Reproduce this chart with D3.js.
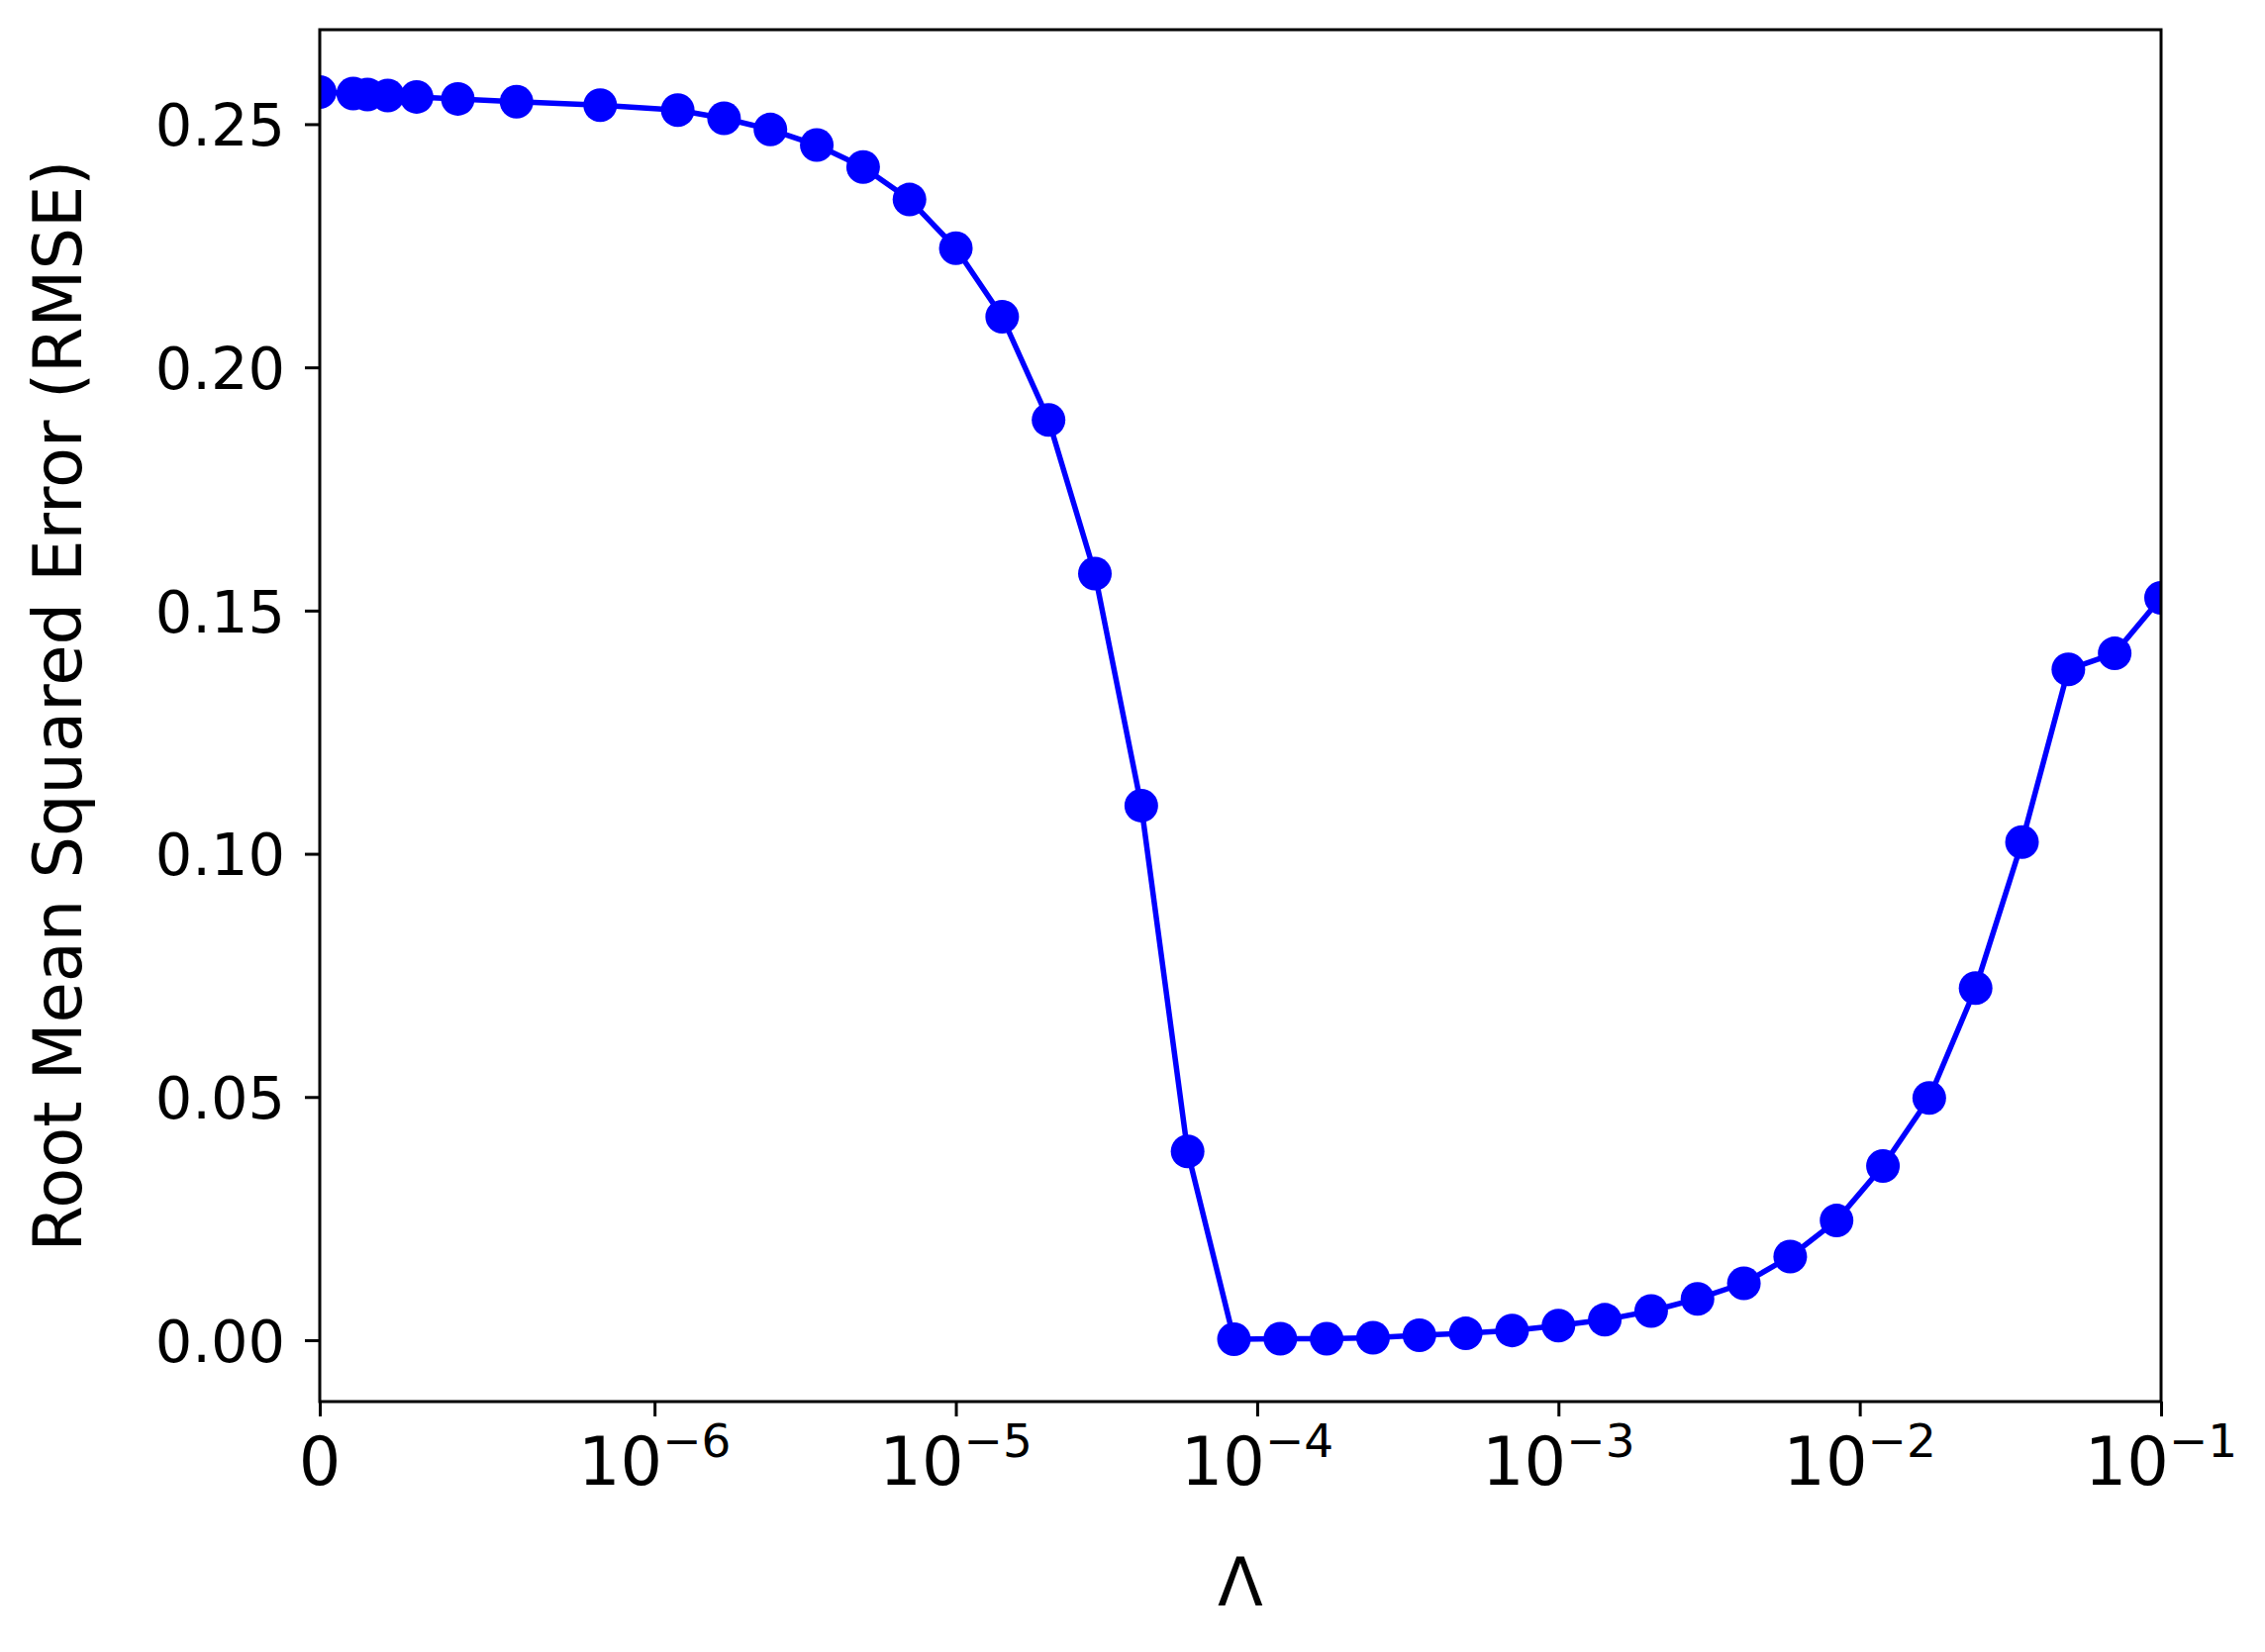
<!DOCTYPE html>
<html>
<head>
<meta charset="utf-8">
<script src="https://cdn.jsdelivr.net/npm/d3@7"></script>
<style>
  html, body { margin: 0; padding: 0; background: #fff; }
  text { font-family: "DejaVu Sans", sans-serif; fill: #000; }
</style>
</head>
<body>
<div id="chart"></div>
<script>
// regularisation strengths (0 followed by log-spaced values)
const lambdas = [0,
  1.000e-7, 1.425e-7, 2.031e-7, 2.894e-7, 4.125e-7, 5.878e-7, 8.377e-7,
  1.194e-6, 1.701e-6, 2.424e-6, 3.455e-6, 4.924e-6, 7.017e-6,
  1.000e-5, 1.425e-5, 2.031e-5, 2.894e-5, 4.125e-5, 5.878e-5, 8.377e-5,
  1.194e-4, 1.701e-4, 2.424e-4, 3.455e-4, 4.924e-4, 7.017e-4,
  1.000e-3, 1.425e-3, 2.031e-3, 2.894e-3, 4.125e-3, 5.878e-3, 8.377e-3,
  1.194e-2, 1.701e-2, 2.424e-2, 3.455e-2, 4.924e-2, 7.017e-2, 1.000e-1];

const rmse = [0.2566,
  0.2563, 0.2561, 0.2559, 0.2556, 0.2552, 0.2546, 0.2539,
  0.2529, 0.2512, 0.2489, 0.2457, 0.2412, 0.2345,
  0.2245, 0.2104, 0.1892, 0.1576, 0.1099, 0.0388, 0.0002,
  0.0003, 0.0003, 0.0005, 0.0010, 0.0014, 0.0020,
  0.0030, 0.0042, 0.0060, 0.0085, 0.0117, 0.0172, 0.0246,
  0.0358, 0.0498, 0.0724, 0.1024, 0.1379, 0.1412, 0.1526];

const xTicks = [0, 1e-6, 1e-5, 1e-4, 1e-3, 1e-2, 1e-1];
const yTicks = [0, 0.05, 0.10, 0.15, 0.20, 0.25];

const W = 2288, H = 1669;
const plot = {left: 323, top: 30, right: 2183, bottom: 1416};
const blue = "#0000ff";

// matplotlib style symlog: linear up to linthresh, log10 after
const linthresh = 1e-6, linscale = 1 / (1 - 1 / 10);
const symlog = v => {
  const a = Math.abs(v);
  const t = a <= linthresh ? a / linthresh * linscale : linscale + Math.log10(a / linthresh);
  return Math.sign(v) * t;
};

const data = lambdas.map((l, i) => ({lam: l, val: rmse[i]}));

const xT = d3.scaleLinear()
  .domain([symlog(0), symlog(0.1)])
  .range([plot.left, plot.right]);
const x = v => xT(symlog(v));

const [ymin, ymax] = d3.extent(rmse);
const pad = (ymax - ymin) * 0.05;
const y = d3.scaleLinear()
  .domain([ymin - pad, ymax + pad])
  .range([plot.bottom, plot.top]);

const svg = d3.select("#chart").append("svg")
  .attr("width", W).attr("height", H)
  .attr("viewBox", `0 0 ${W} ${H}`);

svg.append("rect").attr("width", W).attr("height", H).attr("fill", "#fff");

svg.append("clipPath").attr("id", "clip")
  .append("rect")
  .attr("x", plot.left).attr("y", plot.top)
  .attr("width", plot.right - plot.left)
  .attr("height", plot.bottom - plot.top);

const g = svg.append("g").attr("clip-path", "url(#clip)");

g.append("path")
  .datum(data)
  .attr("fill", "none")
  .attr("stroke", blue)
  .attr("stroke-width", 5.5)
  .attr("stroke-linejoin", "round")
  .attr("d", d3.line().x(d => x(d.lam)).y(d => y(d.val)));

g.selectAll("circle")
  .data(data)
  .enter().append("circle")
  .attr("cx", d => x(d.lam))
  .attr("cy", d => y(d.val))
  .attr("r", 17)
  .attr("fill", blue);

// y axis
const yAxis = svg.append("g")
  .attr("transform", `translate(${plot.left},0)`)
  .call(d3.axisLeft(y).tickValues(yTicks).tickFormat(d3.format(".2f"))
    .tickSize(15).tickPadding(20).tickSizeOuter(0));
yAxis.select(".domain").remove();
yAxis.selectAll(".tick line").attr("stroke", "#000").attr("stroke-width", 3);
yAxis.selectAll(".tick text")
  .attr("font-size", 59)
  .attr("dy", "0.36em")
  .style("font-family", "DejaVu Sans");

// x axis
const xAxis = svg.append("g")
  .attr("transform", `translate(0,${plot.bottom})`)
  .call(d3.axisBottom(xT).tickValues(xTicks.map(symlog)).tickFormat("")
    .tickSize(15).tickSizeOuter(0));
xAxis.select(".domain").remove();
xAxis.selectAll(".tick line").attr("stroke", "#000").attr("stroke-width", 3);

const xl = svg.append("g");
xTicks.forEach(v => {
  const t = xl.append("text")
    .attr("x", x(v))
    .attr("y", 1500)
    .attr("font-size", 67)
    .attr("text-anchor", "middle");
  if (v === 0) {
    t.text("0");
  } else {
    const e = Math.round(Math.log10(v));
    t.append("tspan").text("10");
    t.append("tspan")
      .attr("font-size", 47)
      .attr("dy", -28)
      .text("\u2212" + Math.abs(e));
  }
});

// frame
svg.append("rect")
  .attr("x", plot.left).attr("y", plot.top)
  .attr("width", plot.right - plot.left)
  .attr("height", plot.bottom - plot.top)
  .attr("fill", "none")
  .attr("stroke", "#000")
  .attr("stroke-width", 3);

// axis labels
svg.append("text")
  .attr("transform", "translate(82,713) rotate(-90)")
  .attr("text-anchor", "middle")
  .attr("font-size", 67)
  .text("Root Mean Squared Error (RMSE)");

svg.append("text")
  .attr("x", (plot.left + plot.right) / 2)
  .attr("y", 1622)
  .attr("text-anchor", "middle")
  .attr("font-size", 67)
  .text("\u039B");
</script>
</body>
</html>
